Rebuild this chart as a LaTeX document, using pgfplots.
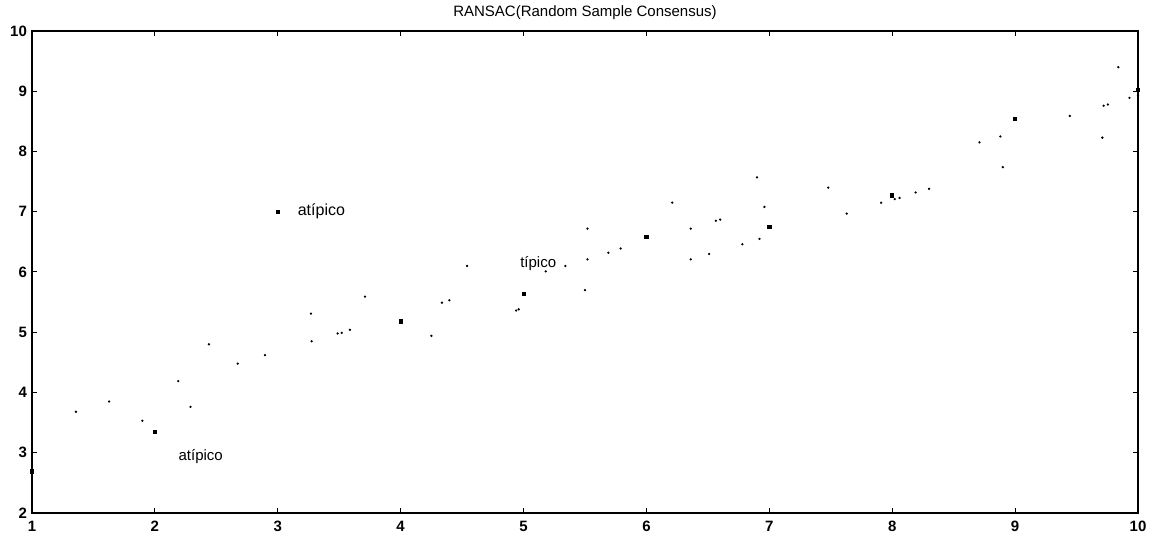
\documentclass[border=0pt]{standalone}
\usepackage{pgfplots}
\pgfplotsset{compat=1.18}
\usepackage{fontspec}
\setmainfont{Liberation Sans}
\begin{document}
\begin{tikzpicture}
\begin{axis}[
  scale only axis,
  width=553pt, height=241pt,
  xmin=1, xmax=10, ymin=2, ymax=10,
  xtick={1,...,10}, ytick={2,...,10},
  tick align=inside,
  major tick length=2.5pt,
  axis line style={line width=0.8pt},
  tick style={black, line width=0.5pt},
  tick label style={font=\fontsize{7.5}{8}\selectfont\bfseries},
  /pgf/number format/assume math mode=true,
  xticklabel style={yshift=-0.5pt},
  yticklabel style={xshift=1pt},
  title={RANSAC(Random Sample Consensus)},
  every axis title/.style={at={(0.5,1)}, anchor=base, yshift=7pt, font=\fontsize{7.5}{9}\selectfont},
  clip=false,
]
% small scattered points
\addplot[only marks, mark=*, mark size=0.35pt, black] coordinates {
(1.358,3.68) (1.627,3.85) (1.898,3.53) (2.19,4.19) (2.29,3.76) (2.44,4.80)
(2.674,4.48) (2.896,4.62) (3.27,5.31) (3.276,4.85) (3.487,4.98) (3.52,4.99)
(3.587,5.04) (3.71,5.59) (4.25,4.94) (4.336,5.49) (4.396,5.53) (4.94,5.36)
(4.96,5.38) (4.54,6.10) (5.18,6.01) (5.34,6.10) (5.50,5.70) (5.52,6.21)
(5.52,6.72) (5.69,6.32) (5.79,6.39) (6.21,7.15) (6.36,6.72) (6.36,6.21)
(6.51,6.30) (6.565,6.85) (6.60,6.87) (6.78,6.46) (6.90,7.57) (6.92,6.55)
(6.96,7.08) (7.48,7.40) (7.63,6.97) (7.91,7.15) (8.02,7.21) (8.06,7.23)
(8.19,7.32) (8.30,7.38) (8.71,8.15) (8.88,8.25) (8.90,7.74) (9.445,8.59)
(9.71,8.23) (9.72,8.76) (9.755,8.78) (9.84,9.40) (9.93,8.89) (10,8.93)
};
% larger points at integer x
\addplot[only marks, mark=square*, mark size=0.8pt, black] coordinates {
(1,2.69) (2,3.35) (3,7.00) (4,5.18) (5,5.63) (6,6.58) (7,6.75) (8,7.27) (9,8.54) (10,9.02)
};
\node[anchor=base west, font=\fontsize{8}{9}\selectfont, inner sep=0pt] at (axis cs:3.16,6.94) {atípico};
\node[anchor=base west, font=\fontsize{7.5}{9}\selectfont, inner sep=0pt] at (axis cs:2.19,2.87) {atípico};
\node[anchor=base west, font=\fontsize{7.5}{9}\selectfont, inner sep=0pt] at (axis cs:4.97,6.07) {típico};
\end{axis}
\pgfresetboundingbox
\path ([xshift=-16pt,yshift=-11pt]current axis.south west) rectangle ([xshift=8.5pt,yshift=15.5pt]current axis.north east);
\end{tikzpicture}
\end{document}
